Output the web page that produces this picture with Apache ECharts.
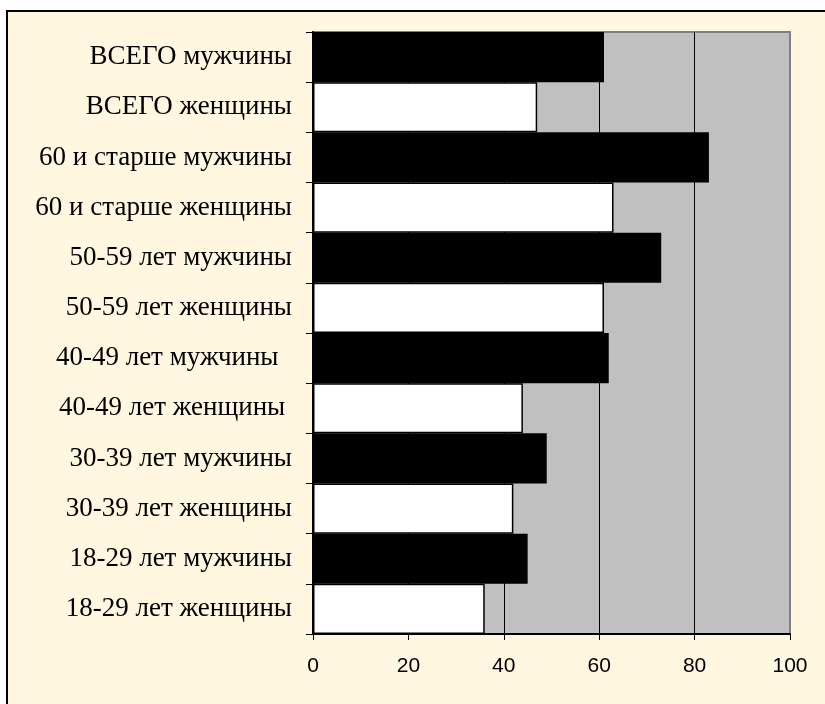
<!DOCTYPE html>
<html>
<head>
<meta charset="utf-8">
<script src="https://cdn.jsdelivr.net/npm/echarts@6/dist/echarts.min.js"></script>
<style>html,body{margin:0;padding:0;background:#fff;}#c{width:825px;height:704px;}</style>
</head>
<body>
<div id="c"></div>
<script>
const categories = [
  'ВСЕГО мужчины',
  'ВСЕГО женщины',
  '60 и старше мужчины',
  '60 и старше женщины',
  '50-59 лет мужчины',
  '50-59 лет женщины',
  '40-49 лет мужчины  ',
  '40-49 лет женщины ',
  '30-39 лет мужчины',
  '30-39 лет женщины',
  '18-29 лет мужчины',
  '18-29 лет женщины'
];
const values = [61, 47, 83, 63, 73, 61, 62, 44, 49, 42, 45, 36];
const xTicks = [0, 20, 40, 60, 80, 100];

const chart = echarts.init(document.getElementById('c'));
chart.setOption({
  backgroundColor: '#ffffff',
  animation: false,
  graphic: [{
    type: 'rect', z: -100, silent: true,
    shape: { x: 7, y: 11, width: 840, height: 720 },
    style: { fill: '#FFF7E0', stroke: '#000', lineWidth: 2 }
  }],
  grid: {
    left: 313, right: 35, top: 32, bottom: 70,
    show: true, backgroundColor: '#C0C0C0', borderColor: '#808080', borderWidth: 2
  },
  xAxis: {
    type: 'value', min: xTicks[0], max: xTicks[xTicks.length - 1], interval: 20,
    axisLine: { show: true, lineStyle: { color: '#000', width: 2 } },
    axisTick: { show: true, length: 6, lineStyle: { color: '#000' } },
    axisLabel: { color: '#000', fontFamily: 'Liberation Sans', fontSize: 21, margin: 22 },
    splitLine: { show: true, lineStyle: { color: ['#808080', '#000', '#000', '#000', '#000', '#808080'], width: 1 } }
  },
  yAxis: {
    type: 'category', inverse: true, data: categories,
    axisLine: { show: true, lineStyle: { color: '#000', width: 2 } },
    axisTick: { show: true, length: 7, lineStyle: { color: '#000' } },
    axisLabel: { color: '#000', fontFamily: 'Liberation Serif', fontSize: 27, margin: 21 }
  },
  series: [{
    type: 'bar',
    data: values,
    barCategoryGap: '0%',
    itemStyle: {
      color: (p) => p.dataIndex % 2 === 0 ? '#000000' : '#ffffff',
      borderColor: '#000', borderWidth: 1.5
    }
  }]
});
</script>
</body>
</html>
